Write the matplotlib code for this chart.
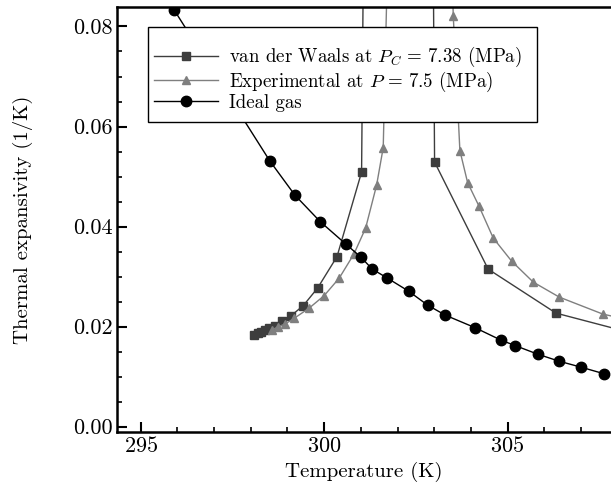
import numpy as np
import matplotlib
matplotlib.use('Agg')
import matplotlib.pyplot as plt
from matplotlib.patches import Rectangle

plt.rcParams['font.family'] = 'cmr10'
plt.rcParams['mathtext.fontset'] = 'cm'
plt.rcParams['axes.formatter.use_mathtext'] = True
plt.rcParams['font.size'] = 14

# van der Waals at Pc (left and right branch, last points run off the axes)
T_vdw = [298.10, 298.19, 298.28, 298.39, 298.50, 298.66, 298.86, 299.10, 299.43,
         299.82, 300.35, 301.02, 301.10]
a_vdw = [0.0183, 0.0187, 0.0190, 0.0193, 0.0197, 0.0202, 0.0212, 0.0222, 0.0242,
         0.0277, 0.0340, 0.0509, 0.1200]
T_vdw_r = [302.95, 303.01, 304.47, 306.32, 308.40]
a_vdw_r = [0.1200, 0.0529, 0.0315, 0.0227, 0.0187]

# experimental at P = 7.5 MPa
T_exp = [298.57, 298.75, 298.93, 299.19, 299.59, 300.00, 300.41, 300.81, 301.13,
         301.43, 301.61, 301.75]
a_exp = [0.0193, 0.0200, 0.0205, 0.0217, 0.0237, 0.0262, 0.0297, 0.0345, 0.0397,
         0.0483, 0.0558, 0.1000]
T_exp_r = [303.45, 303.52, 303.70, 303.91, 304.22, 304.61, 305.11, 305.70, 306.41,
           307.60, 308.40]
a_exp_r = [0.1000, 0.0820, 0.0552, 0.0488, 0.0441, 0.0377, 0.0331, 0.0289, 0.0259,
           0.0225, 0.0212]

# ideal gas
T_id = [295.91, 298.52, 299.20, 299.89, 300.59, 301.00, 301.31, 301.70, 302.30,
        302.82, 303.30, 304.11, 304.82, 305.21, 305.82, 306.40, 307.00, 307.62]
a_id = [0.0833, 0.0531, 0.0463, 0.0410, 0.0365, 0.0339, 0.0315, 0.0298, 0.0271,
        0.0243, 0.0223, 0.0198, 0.0173, 0.0162, 0.0145, 0.0131, 0.0119, 0.0106]

vdw_c = '#3d3d3d'
exp_c = '#7f7f7f'

fig = plt.figure(figsize=(6.11, 4.88), dpi=100)
ax = fig.add_axes([0.192, 0.1148, 0.808, 0.8709])

ax.plot(T_vdw, a_vdw, '-s', color=vdw_c, lw=1, ms=5.5, label=r'van der Waals at $P_C\,=\,7.38$ (MPa)')
ax.plot(T_vdw_r, a_vdw_r, '-s', color=vdw_c, lw=1, ms=5.5)
ax.plot(T_exp, a_exp, '-^', color=exp_c, lw=1, ms=5.5, label=r'Experimental at $P\,=\,7.5$ (MPa)')
ax.plot(T_exp_r, a_exp_r, '-^', color=exp_c, lw=1, ms=5.5)
ax.plot(T_id, a_id, '-o', color='black', lw=1, ms=7.5, label='Ideal gas')

ax.set_xlim(294.36, 307.82)
ax.set_ylim(-0.00106, 0.0839)
ax.set_xticks([295, 300, 305])
ax.set_xticks(np.arange(295, 308, 1), minor=True)
ax.set_yticks([0.00, 0.02, 0.04, 0.06, 0.08])
ax.set_yticks(np.arange(0, 0.085, 0.005), minor=True)
ax.yaxis.set_major_formatter(matplotlib.ticker.FormatStrFormatter('%.2f'))
ax.tick_params(which='major', direction='in', length=7, width=1.5, labelsize=16, pad=3)
ax.tick_params(which='minor', direction='in', length=3.5, width=1.2)
for s in ['left', 'bottom', 'top']:
    ax.spines[s].set_linewidth(1.8)
ax.spines['right'].set_visible(False)

ax.set_xlabel('Temperature (K)', fontsize=15, labelpad=4)
ax.set_ylabel('Thermal expansivity (1/K)', fontsize=15, labelpad=29)

# legend box is drawn separately, it has more room than the entries need
ax.add_patch(Rectangle((0.0622, 0.729), 0.788, 0.224, transform=ax.transAxes,
                       facecolor='white', edgecolor='black', lw=1.0, zorder=4))
leg = ax.legend(loc='upper left', bbox_to_anchor=(0.0743, 0.910), frameon=False,
                borderpad=0, borderaxespad=0, labelspacing=0.0,
                handlelength=3.4, handletextpad=0.55, fontsize=13.6)
leg.set_zorder(5)

plt.savefig('out.png', dpi=100)
